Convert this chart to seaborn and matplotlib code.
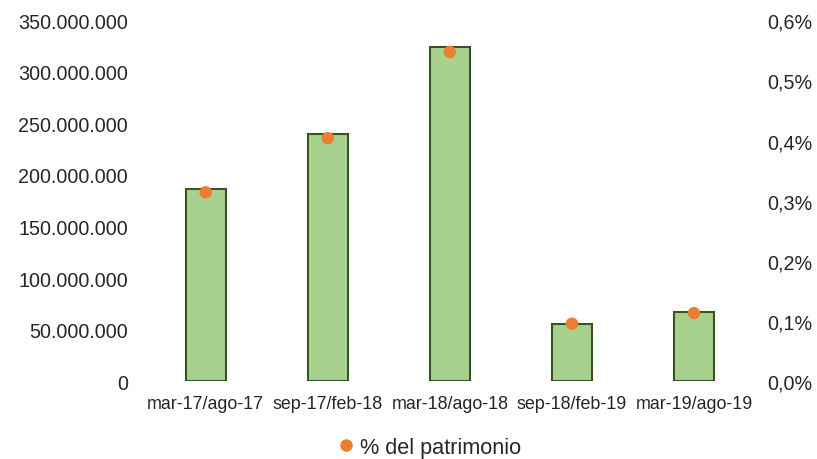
import matplotlib
matplotlib.use("Agg")
import matplotlib.pyplot as plt
from matplotlib.ticker import FuncFormatter, MultipleLocator
from matplotlib.lines import Line2D
import seaborn as sns
import pandas as pd

# Semester periods, amounts and share of equity
periods = ["mar-17/ago-17", "sep-17/feb-18", "mar-18/ago-18", "sep-18/feb-19", "mar-19/ago-19"]
amounts = [186_600_000, 239_500_000, 323_800_000, 55_900_000, 67_600_000]
pct_equity = [0.314, 0.404, 0.547, 0.096, 0.1135]
legend_label = "% del patrimonio"

df = pd.DataFrame({"periodo": periods, "monto": amounts, "pct": pct_equity})

sns.set_theme(style="white")
plt.rcParams["font.family"] = ["Liberation Sans", "DejaVu Sans"]

fig = plt.figure(figsize=(8.17, 4.60), dpi=100)
ax = fig.add_axes([0.1771, 0.1685, 0.9241 - 0.1771, 0.9543 - 0.1685])

sns.barplot(data=df, x="periodo", y="monto", ax=ax, color="#A9D18E",
            edgecolor="#375623", linewidth=1.5, width=0.33, saturation=1)
ax.set_ylim(0, 350_000_000)
ax.yaxis.set_major_locator(MultipleLocator(50_000_000))
ax.yaxis.set_major_formatter(FuncFormatter(lambda v, p: f"{int(v):,}".replace(",", ".")))
ax.set_xlim(-0.5, 4.5)
ax.set_xlabel("")
ax.set_ylabel("")

ax2 = ax.twinx()
sns.scatterplot(data=df, x="periodo", y="pct", ax=ax2, color="#ED7D31",
                s=80, edgecolor="none", zorder=5, legend=False)
ax2.set_ylim(0, 0.6)
ax2.yaxis.set_major_locator(MultipleLocator(0.1))
ax2.yaxis.set_major_formatter(FuncFormatter(lambda v, p: f"{v:.1f}%".replace(".", ",")))
ax2.set_ylabel("")
ax2.set_xlim(-0.5, 4.5)

for a in (ax, ax2):
    for s in a.spines.values():
        s.set_visible(False)
    a.grid(False)

ax.tick_params(axis="y", length=0, pad=12, labelsize=14.2, labelcolor="#262626")
ax.tick_params(axis="x", length=0, pad=10, labelsize=12.9, labelcolor="#262626")
ax2.tick_params(axis="y", length=0, pad=8.5, labelsize=14.2, labelcolor="#262626")

handle = Line2D([], [], marker="o", linestyle="none", color="#ED7D31",
                markersize=9, markeredgewidth=0)
fig.legend([handle], [legend_label], loc="center", bbox_to_anchor=(0.5265, 0.026),
           frameon=False, fontsize=15.6, handlelength=0.7, handletextpad=0.3,
           borderaxespad=0, labelcolor="#262626")

fig.savefig("out.png", dpi=100)
